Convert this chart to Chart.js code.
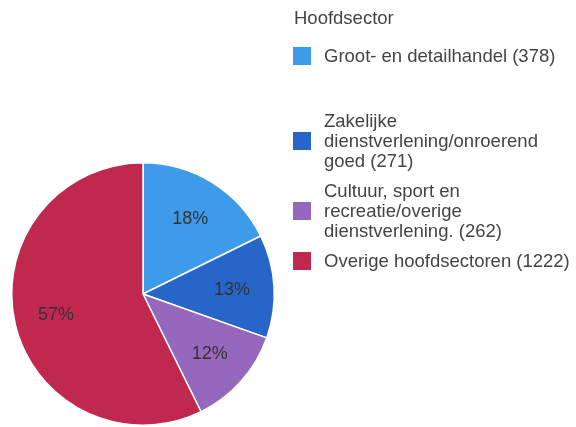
<!DOCTYPE html>
<html>
<head>
<meta charset="utf-8">
<script src="https://cdn.jsdelivr.net/npm/chart.js@4.4.1/dist/chart.umd.min.js"></script>
<style>
  body { margin: 0; background: #fff; font-family: "Liberation Sans", Arial, sans-serif; }
  #wrap { position: relative; width: 576px; height: 427px; overflow: hidden; }
  #pie { position: absolute; left: 0; top: 0; }
  #legend { position: absolute; left: 293px; top: 0; color: #444; font-size: 18.5px; }
  .title { position: absolute; left: 1px; top: 7px; line-height: 22px; white-space: nowrap; }
  .item { position: absolute; left: 0; width: 280px; }
  .sw { position: absolute; left: 0; width: 18px; height: 18px; top: -9px; }
  .txt { position: absolute; left: 31px; line-height: 20px; white-space: nowrap; }
</style>
</head>
<body>
<div id="wrap">
  <canvas id="pie" width="576" height="427"></canvas>
  <div id="legend"></div>
</div>
<script>
// Data
const legendTitle = "Hoofdsector";
const sectors = [
  ["Groot- en detailhandel (378)"],
  ["Zakelijke", "dienstverlening/onroerend", "goed (271)"],
  ["Cultuur, sport en", "recreatie/overige", "dienstverlening. (262)"],
  ["Overige hoofdsectoren (1222)"]
];
const counts = [378, 271, 262, 1222];
const colors = ["#3d9be9", "#2766c8", "#9568bd", "#c0284f"];

// legend vertical centres (px)
const legendY = [56, 141, 211, 261];

// Percent labels on the slices
const pctLabels = {
  id: "pctLabels",
  afterDatasetsDraw(chart) {
    const ctx = chart.ctx;
    const meta = chart.getDatasetMeta(0);
    const total = counts.reduce((a, b) => a + b, 0);
    ctx.save();
    ctx.font = "18px 'Liberation Sans', Arial, sans-serif";
    ctx.fillStyle = "#333";
    ctx.textAlign = "center";
    ctx.textBaseline = "middle";
    meta.data.forEach((arc, i) => {
      const p = arc.getProps(["x", "y", "startAngle", "endAngle", "outerRadius"], true);
      const mid = (p.startAngle + p.endAngle) / 2;
      const r = p.outerRadius * 0.68;
      const txt = Math.round(counts[i] / total * 100) + "%";
      ctx.fillText(txt, p.x + Math.cos(mid) * r, p.y + Math.sin(mid) * r + 1);
    });
    ctx.restore();
  }
};

new Chart(document.getElementById("pie"), {
  type: "pie",
  data: {
    labels: sectors.map(s => s.join(" ")),
    datasets: [{
      data: counts,
      backgroundColor: colors,
      borderColor: "#fff",
      borderWidth: 1.5
    }]
  },
  options: {
    responsive: false,
    animation: false,
    layout: { padding: { left: 11, top: 162, right: 301, bottom: 1 } },
    plugins: { legend: { display: false }, tooltip: { enabled: false } }
  },
  plugins: [pctLabels]
});

// HTML legend
const legend = document.getElementById("legend");
const t = document.createElement("div");
t.className = "title";
t.textContent = legendTitle;
legend.appendChild(t);
sectors.forEach((lines, i) => {
  const item = document.createElement("div");
  item.className = "item";
  item.style.top = legendY[i] + "px";
  const sw = document.createElement("div");
  sw.className = "sw";
  sw.style.background = colors[i];
  const txt = document.createElement("div");
  txt.className = "txt";
  txt.innerHTML = lines.join("<br>");
  txt.style.top = (-lines.length * 10) + "px";
  item.appendChild(sw);
  item.appendChild(txt);
  legend.appendChild(item);
});
</script>
</body>
</html>
